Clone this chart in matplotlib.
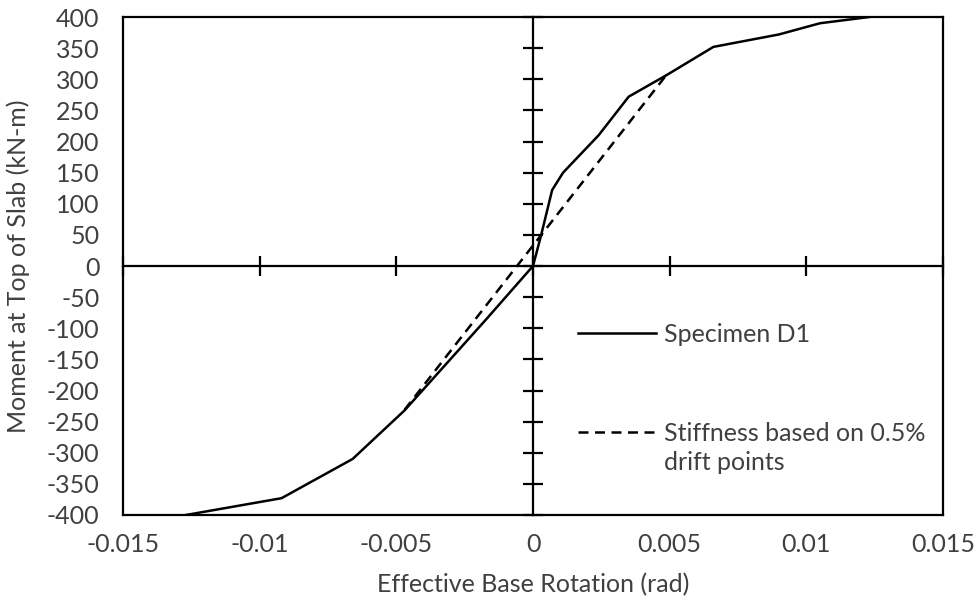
import numpy as np
import matplotlib
matplotlib.use('Agg')
import matplotlib.pyplot as plt

# specimen D1 response
rot_d1 = [-0.0127, -0.0092, -0.0066, -0.0047, -0.0017, 0.0, 0.0003, 0.0007,
          0.0011, 0.0024, 0.0035, 0.0049, 0.0066, 0.0090, 0.0105, 0.0123]
mom_d1 = [-400, -373, -310, -232, -85, 0, 50, 122,
          150, 210, 272, 307, 352, 372, 390, 400]

# secant stiffness line between the 0.5% drift points
rot_k = [-0.0047, 0.0049]
mom_k = [-231, 308]

xticks = [-0.015, -0.01, -0.005, 0, 0.005, 0.01, 0.015]
xlabels = ['-0.015', '-0.01', '-0.005', '0', '0.005', '0.01', '0.015']
yticks = list(range(-400, 401, 50))

plt.rcParams['font.family'] = ['Lato', 'DejaVu Sans']
plt.rcParams['font.size'] = 18
plt.rcParams['axes.unicode_minus'] = False
txt = '#404040'

fig = plt.figure(figsize=(9.77, 6.12), dpi=100)
rect = [0.1259, 0.1585, 0.8393, 0.8137]
ax = fig.add_axes(rect)
ax.set_xlim(-0.015, 0.015)
ax.set_ylim(-400, 400)
ax.set_xticks(xticks)
ax.set_xticklabels(xlabels)
ax.set_yticks(yticks)
ax.tick_params(axis='x', length=0, pad=13, colors=txt, labelsize=18)
ax.tick_params(axis='y', length=0, pad=17, colors=txt, labelsize=18)
for s in ax.spines.values():
    s.set_linewidth(1.6)
    s.set_color('black')
ax.set_xlabel('Effective Base Rotation (rad)', color=txt, labelpad=12)
ax.set_ylabel('Moment at Top of Slab (kN-m)', color=txt, labelpad=12)

# centre cross with ticks through it
cross = fig.add_axes(rect, facecolor='none', sharex=ax, sharey=ax)
for side in ['top', 'right']:
    cross.spines[side].set_visible(False)
for side in ['left', 'bottom']:
    cross.spines[side].set_position(('data', 0))
    cross.spines[side].set_linewidth(1.6)
cross.tick_params(direction='inout', length=15, width=1.6,
                  labelleft=False, labelbottom=False)
cross.set_xticks(xticks)
cross.set_yticks(yticks)

ax.plot(rot_d1, mom_d1, color='black', lw=1.8, label='Specimen D1', zorder=3)
ax.plot(rot_k, mom_k, color='black', lw=1.8, ls=(0, (4, 2.6)),
        label='Stiffness based on 0.5%', zorder=3)

leg = ax.legend(loc='upper left', bbox_to_anchor=(0.555, 0.386), frameon=False,
                borderpad=0, borderaxespad=0,
                handlelength=3.1, handletextpad=0.32, labelspacing=3.03,
                fontsize=18)
for t in leg.get_texts():
    t.set_color(txt)

# second line of the dashed entry, hung under its first line
fig.canvas.draw()
bb = leg.get_texts()[1].get_window_extent().transformed(fig.transFigure.inverted())
fig.text(bb.x0, bb.y0 - 0.011, 'drift points', ha='left', va='top',
         color=txt, fontsize=18)

fig.savefig('out.png', dpi=100)
